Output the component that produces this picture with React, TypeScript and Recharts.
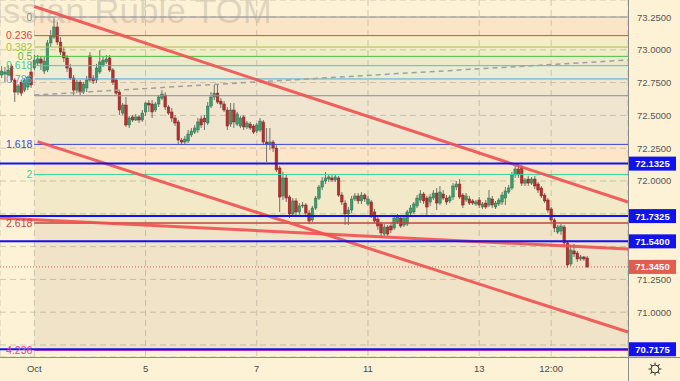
import React from 'react';
import { ComposedChart, Bar, XAxis, YAxis, CartesianGrid, ReferenceLine, ReferenceArea } from 'recharts';

// hourly candles [open, high, low, close]; 17 bars per session, Oct 1 opens at bar 0
const sep30 = [
  [72.808, 72.876, 72.785, 72.838], [72.815, 72.869, 72.754, 72.831], [72.808, 72.884, 72.800, 72.846],
  [72.876, 72.892, 72.754, 72.770], [72.770, 72.785, 72.602, 72.678], [72.678, 72.739, 72.655, 72.724],
  [72.754, 72.770, 72.647, 72.670], [72.693, 72.777, 72.678, 72.770], [72.716, 72.800, 72.693, 72.792],
  [72.831, 72.907, 72.709, 72.732],
];
const oct1 = [
  [72.861, 72.960, 72.846, 72.922], [72.899, 72.960, 72.876, 72.930], [72.930, 72.953, 72.846, 72.899],
  [72.838, 72.945, 72.815, 72.914], [72.846, 73.075, 72.831, 73.052], [73.052, 73.151, 73.021, 73.105],
  [73.097, 73.242, 73.082, 73.174], [73.174, 73.212, 73.036, 73.059], [73.059, 73.097, 72.960, 72.983],
  [72.983, 73.021, 72.907, 72.938], [72.938, 72.960, 72.831, 72.861], [72.861, 72.892, 72.770, 72.785],
  [72.785, 72.808, 72.655, 72.693], [72.693, 72.770, 72.670, 72.754], [72.754, 72.770, 72.655, 72.678],
  [72.678, 72.754, 72.663, 72.739], [72.709, 72.800, 72.678, 72.770],
];
const oct4 = [
  [72.953, 72.983, 72.754, 72.770], [72.785, 72.808, 72.739, 72.762], [72.770, 72.892, 72.747, 72.861],
  [72.831, 72.998, 72.815, 72.907], [72.884, 72.945, 72.869, 72.922], [72.907, 72.960, 72.892, 72.930],
  [72.938, 72.960, 72.831, 72.846], [72.846, 72.861, 72.732, 72.754], [72.770, 72.785, 72.655, 72.670],
  [72.678, 72.693, 72.503, 72.541], [72.518, 72.594, 72.503, 72.579], [72.579, 72.640, 72.412, 72.427],
  [72.427, 72.495, 72.404, 72.480], [72.488, 72.503, 72.450, 72.465], [72.465, 72.511, 72.457, 72.488],
  [72.488, 72.503, 72.442, 72.465], [72.465, 72.541, 72.450, 72.518],
];
const oct5 = [
  [72.526, 72.602, 72.495, 72.594], [72.594, 72.617, 72.526, 72.579], [72.587, 72.617, 72.480, 72.526],
  [72.541, 72.602, 72.526, 72.587], [72.587, 72.655, 72.564, 72.640], [72.632, 72.693, 72.617, 72.663],
  [72.655, 72.678, 72.541, 72.564], [72.564, 72.579, 72.503, 72.518], [72.526, 72.556, 72.450, 72.480],
  [72.480, 72.503, 72.419, 72.442], [72.450, 72.465, 72.282, 72.312], [72.312, 72.328, 72.274, 72.297],
  [72.297, 72.343, 72.282, 72.320], [72.305, 72.389, 72.290, 72.358], [72.351, 72.404, 72.335, 72.381],
  [72.373, 72.427, 72.358, 72.404], [72.389, 72.480, 72.366, 72.450],
];
const oct6 = [
  [72.473, 72.495, 72.404, 72.427], [72.480, 72.503, 72.389, 72.450], [72.442, 72.602, 72.427, 72.571],
  [72.571, 72.678, 72.556, 72.640], [72.640, 72.732, 72.617, 72.670], [72.670, 72.732, 72.587, 72.602],
  [72.609, 72.632, 72.556, 72.587], [72.587, 72.609, 72.526, 72.541], [72.541, 72.564, 72.389, 72.419],
  [72.434, 72.594, 72.412, 72.541], [72.541, 72.594, 72.404, 72.450], [72.434, 72.526, 72.419, 72.511],
  [72.419, 72.495, 72.404, 72.480], [72.488, 72.503, 72.389, 72.412], [72.412, 72.457, 72.396, 72.442],
  [72.434, 72.450, 72.389, 72.404], [72.419, 72.434, 72.358, 72.373],
];
const oct7 = [
  [72.381, 72.442, 72.366, 72.427], [72.389, 72.480, 72.373, 72.457], [72.450, 72.465, 72.274, 72.297],
  [72.297, 72.404, 72.145, 72.282], [72.282, 72.404, 72.236, 72.297], [72.297, 72.312, 72.221, 72.251],
  [72.251, 72.274, 72.069, 72.084], [72.099, 72.115, 71.764, 71.878], [71.886, 72.069, 71.855, 72.023],
  [72.023, 72.046, 71.840, 71.870], [71.878, 71.893, 71.718, 71.749], [71.749, 71.870, 71.733, 71.848],
  [71.848, 71.870, 71.733, 71.764], [71.764, 71.832, 71.741, 71.810], [71.810, 71.840, 71.794, 71.817],
  [71.817, 71.832, 71.741, 71.756], [71.756, 71.779, 71.672, 71.695],
];
const oct8 = [
  [71.703, 71.810, 71.688, 71.794], [71.794, 71.886, 71.779, 71.870], [71.870, 71.970, 71.855, 71.954],
  [71.954, 72.031, 71.931, 72.000], [72.000, 72.069, 71.977, 72.023], [72.015, 72.046, 71.992, 72.031],
  [72.023, 72.046, 71.992, 72.008], [72.008, 72.046, 71.992, 72.031], [72.023, 72.038, 71.878, 71.893],
  [71.893, 71.916, 71.817, 71.840], [71.832, 71.855, 71.665, 71.749], [71.749, 71.802, 71.665, 71.779],
  [71.779, 71.886, 71.756, 71.863], [71.863, 71.908, 71.848, 71.886], [71.886, 71.908, 71.825, 71.848],
  [71.848, 71.916, 71.825, 71.893], [71.893, 71.908, 71.840, 71.863],
];
const oct11 = [
  [71.825, 71.886, 71.810, 71.863], [71.840, 71.855, 71.718, 71.733], [71.764, 71.787, 71.680, 71.695],
  [71.710, 71.733, 71.627, 71.657], [71.672, 71.688, 71.566, 71.604], [71.596, 71.672, 71.581, 71.649],
  [71.649, 71.665, 71.581, 71.596], [71.657, 71.688, 71.604, 71.627], [71.642, 71.741, 71.627, 71.718],
  [71.688, 71.749, 71.672, 71.726], [71.718, 71.733, 71.642, 71.657], [71.665, 71.733, 71.649, 71.718],
  [71.672, 71.779, 71.657, 71.764], [71.756, 71.817, 71.741, 71.794], [71.764, 71.840, 71.749, 71.825],
  [71.810, 71.893, 71.794, 71.870], [71.855, 71.931, 71.832, 71.901],
];
const oct12 = [
  [71.901, 71.916, 71.825, 71.848], [71.870, 71.886, 71.741, 71.802], [71.840, 71.901, 71.810, 71.878],
  [71.870, 71.931, 71.855, 71.908], [71.908, 71.946, 71.779, 71.832], [71.832, 71.962, 71.817, 71.916],
  [71.901, 71.931, 71.855, 71.870], [71.870, 71.893, 71.817, 71.840], [71.848, 71.893, 71.832, 71.878],
  [71.878, 71.984, 71.855, 71.962], [71.954, 72.000, 71.931, 71.977], [71.977, 72.015, 71.863, 71.878],
  [71.893, 71.908, 71.794, 71.817], [71.855, 71.908, 71.840, 71.886], [71.863, 71.886, 71.817, 71.832],
  [71.848, 71.863, 71.817, 71.832], [71.825, 71.855, 71.810, 71.840],
];
const oct13 = [
  [71.855, 71.878, 71.794, 71.817], [71.802, 71.840, 71.787, 71.825], [71.832, 71.855, 71.787, 71.802],
  [71.817, 71.931, 71.802, 71.870], [71.863, 71.886, 71.794, 71.817], [71.802, 71.848, 71.787, 71.832],
  [71.825, 71.870, 71.810, 71.855], [71.840, 71.916, 71.817, 71.893], [71.870, 71.954, 71.817, 71.924],
  [71.916, 71.970, 71.901, 71.947], [71.947, 72.069, 71.931, 72.046], [72.046, 72.137, 72.023, 72.092],
  [72.092, 72.130, 72.023, 72.046], [72.099, 72.122, 71.962, 71.984], [71.984, 72.023, 71.962, 72.008],
  [72.015, 72.038, 71.962, 71.984], [71.984, 72.031, 71.970, 72.015],
];
const oct14 = [
  [72.015, 72.038, 71.939, 71.962], [71.977, 71.992, 71.908, 71.931], [71.947, 71.962, 71.870, 71.886],
  [71.893, 71.908, 71.832, 71.848], [71.855, 71.870, 71.756, 71.779], [71.787, 71.802, 71.688, 71.703],
  [71.703, 71.718, 71.611, 71.642], [71.611, 71.665, 71.596, 71.649], [71.619, 71.672, 71.589, 71.657],
  [71.649, 71.665, 71.505, 71.528], [71.528, 71.543, 71.337, 71.360], [71.368, 71.512, 71.352, 71.474],
  [71.467, 71.520, 71.421, 71.444], [71.451, 71.467, 71.383, 71.406], [71.406, 71.436, 71.391, 71.421],
  [71.421, 71.428, 71.391, 71.406], [71.413, 71.428, 71.337, 71.345],
];

const firstBar = -10;
const lastSlot = 181;

const dayTicks = [0, 34, 68, 102, 136, 158];
const dayLabels = ['Oct', '5', '7', '11', '13', '12:00'];

const priceTicks = [70.75, 71, 71.25, 71.5, 71.75, 72, 72.25, 72.5, 72.75, 73, 73.25];
const hiddenTicks = [70.75, 71.5, 71.75];

const fibRatios = ['0', '0.236', '0.382', '0.5', '0.618', '0.786', '1', '1.618', '2', '2.618', '4.236'];
const fibPrices = [73.25, 73.108, 73.021, 72.95, 72.879, 72.778, 72.65, 72.279, 72.05, 71.679, 70.708];
const fibColors = ['#8a8d96', '#d64a45', '#a9c43c', '#4cbf45', '#3fcf9a', '#52a8d8', '#8a8d96', '#3a46e0', '#38d3a0', '#c2443f', '#e040a0'];
const fibBands = [
  'rgba(244,120,80,0.1)', 'rgba(180,200,90,0.1)', 'rgba(130,200,80,0.1)', 'rgba(80,180,120,0.1)',
  'rgba(100,180,200,0.1)', 'rgba(140,130,140,0.1)', 'rgba(130,120,150,0.1)', 'rgba(250,130,80,0.1)',
  'rgba(140,160,80,0.1)', 'rgba(130,100,80,0.1)',
];

const levelPrices = [72.1325, 71.7325, 71.54, 70.7175];
const lastPrice = 71.345;

// trend lines: [bar, price] pairs
const trendLines = [
  [[0, 73.33], [181.5, 71.84]],
  [[1, 72.30], [181.5, 70.849]],
  [[-10.5, 71.718], [181.5, 71.482]],
];
const dashedLine = [[0, 72.655], [181.5, 72.922]];

const allCandles = [...sep30, ...oct1, ...oct4, ...oct5, ...oct6, ...oct7, ...oct8, ...oct11, ...oct12, ...oct13, ...oct14];

const data: any[] = [];
for (let t = firstBar; t <= lastSlot; t++) {
  const c = allCandles[t - firstBar];
  data.push(c ? { t, o: c[0], h: c[1], l: c[2], c: c[3], range: [c[2], c[1]] } : { t, range: null });
}

const Candle = (props: any) => {
  const { x, y, width, height, payload } = props;
  if (!payload || payload.o == null) return <g />;
  const { o, h, l, c } = payload;
  const top = Math.min(y, y + height);
  const bottom = Math.max(y, y + height);
  const span = h - l || 0.0001;
  const py = (v: number) => top + ((h - v) / span) * (bottom - top);
  const cx = x + width / 2;
  const up = c >= o;
  const bTop = py(Math.max(o, c));
  const bBot = Math.max(py(Math.min(o, c)), bTop + 1);
  return (
    <g>
      <line x1={cx} x2={cx} y1={top} y2={bottom} stroke="#707070" strokeWidth={1} />
      <rect x={cx - 1.3} y={bTop} width={2.6} height={bBot - bTop}
        fill={up ? '#3f9a6c' : '#b3312e'} stroke={up ? '#2c7550' : '#8a2422'} strokeWidth={0.5} />
    </g>
  );
};

const PriceTag = (props: any) => {
  const { viewBox, text, color } = props;
  if (!viewBox) return null;
  const x = viewBox.x + viewBox.width;
  const y = viewBox.y;
  return (
    <g>
      <rect x={x + 1} y={y - 7} width={47} height={14} fill={color} />
      <text x={x + 24.5} y={y + 3.5} textAnchor="middle" fill="#fff" fontSize={9.5} fontWeight="bold">{text}</text>
    </g>
  );
};

const PriceTick = (props: any) => {
  const { x, y, payload } = props;
  if (hiddenTicks.includes(payload.value)) return <g />;
  return (
    <text x={x + 1} y={y + 3.5} fill="#555" fontSize={9.5} textAnchor="start">{payload.value.toFixed(4)}</text>
  );
};

const DayTick = (props: any) => {
  const { x, payload } = props;
  return (
    <text x={x} y={372} fill="#4a4a4a" fontSize={9.5} textAnchor="middle">{dayLabels[dayTicks.indexOf(payload.value)]}</text>
  );
};

export default function App() {
  return (
    <div style={{ position: 'absolute', left: 0, top: 0, width: 680, height: 381, background: '#fdf2d5', fontFamily: '"Liberation Sans", Arial, sans-serif', overflow: 'hidden' }}>
      <svg width={680} height={381} style={{ position: 'absolute', left: 0, top: 0 }}>
        <text x={272} y={23} textAnchor="end" fontSize={35} fill="rgba(110,110,110,0.22)">Russian Ruble TOM</text>
      </svg>
      <div style={{ position: 'absolute', left: 0, top: 0 }}>
        <ComposedChart width={680} height={381} data={data} margin={{ top: 0, right: 0, bottom: 0, left: 0 }} barCategoryGap="20%">
          <CartesianGrid xAxisId="n" yAxisId="p" stroke="#cfc8b6" strokeDasharray="6 4" />
          <XAxis xAxisId="c" dataKey="t" type="category" orientation="top" height={0} hide />
          <XAxis xAxisId="n" dataKey="t" type="number" domain={[-10.5, 181.5]} allowDataOverflow
            ticks={dayTicks} interval={0} height={24} axisLine={false} tickLine={false} tick={<DayTick />} />
          <YAxis yAxisId="p" orientation="right" width={52} domain={[70.6585, 73.3796]} allowDataOverflow
            ticks={priceTicks} interval={0} axisLine={false} tickLine={false} tick={<PriceTick />} />

          {fibBands.map((fill, i) => (
            <ReferenceArea key={'band' + i} xAxisId="n" yAxisId="p" x1={0} x2={181.5}
              y1={fibPrices[i + 1]} y2={fibPrices[i]} fill={fill} fillOpacity={1} stroke="none" />
          ))}

          <Bar xAxisId="c" yAxisId="p" dataKey="range" shape={<Candle />} isAnimationActive={false} />

          {fibPrices.map((p, i) => (
            <ReferenceLine key={'fib' + i} xAxisId="n" yAxisId="p"
              segment={[{ x: 0, y: p }, { x: 181.5, y: p }]} stroke={fibColors[i]} strokeWidth={i === 9 ? 1.5 : 1}
              label={fibRatios[i] === '1' ? undefined : { value: fibRatios[i], position: 'left', offset: 2, fill: fibColors[i], fontSize: 10.5 }} />
          ))}

          <ReferenceLine xAxisId="n" yAxisId="p" segment={dashedLine.map(([x, y]) => ({ x, y }))}
            stroke="#a0a0a0" strokeWidth={1.5} strokeDasharray="5 4" />

          {trendLines.map((seg, i) => (
            <ReferenceLine key={'tl' + i} xAxisId="n" yAxisId="p" segment={seg.map(([x, y]) => ({ x, y }))}
              stroke="#f05050" strokeOpacity={0.9} strokeWidth={3} />
          ))}

          <ReferenceLine xAxisId="n" yAxisId="p" y={lastPrice} stroke="#e35d4f" strokeDasharray="1 2"
            label={<PriceTag text={lastPrice.toFixed(4)} color="#e35d4f" />} />

          {levelPrices.map((p) => (
            <ReferenceLine key={'lv' + p} xAxisId="n" yAxisId="p" y={p} stroke="#1212ee" strokeWidth={2}
              label={<PriceTag text={p.toFixed(4)} color="#1212ee" />} />
          ))}
        </ComposedChart>
      </div>
      <svg width={680} height={381} style={{ position: 'absolute', left: 0, top: 0, pointerEvents: 'none' }}>
        <line x1={628.5} x2={628.5} y1={0} y2={381} stroke="#8c8c8c" strokeWidth={1} />
        <line x1={0} x2={680} y1={357.5} y2={357.5} stroke="#8c8c8c" strokeWidth={1} />
        <g transform="translate(655,369)" stroke="#333" strokeWidth={1} fill="none">
          <circle r={4} />
          {[0, 45, 90, 135, 180, 225, 270, 315].map((a) => (
            <line key={a} x1={0} y1={-4} x2={0} y2={-6.5} transform={`rotate(${a})`} />
          ))}
        </g>
      </svg>
    </div>
  );
}
